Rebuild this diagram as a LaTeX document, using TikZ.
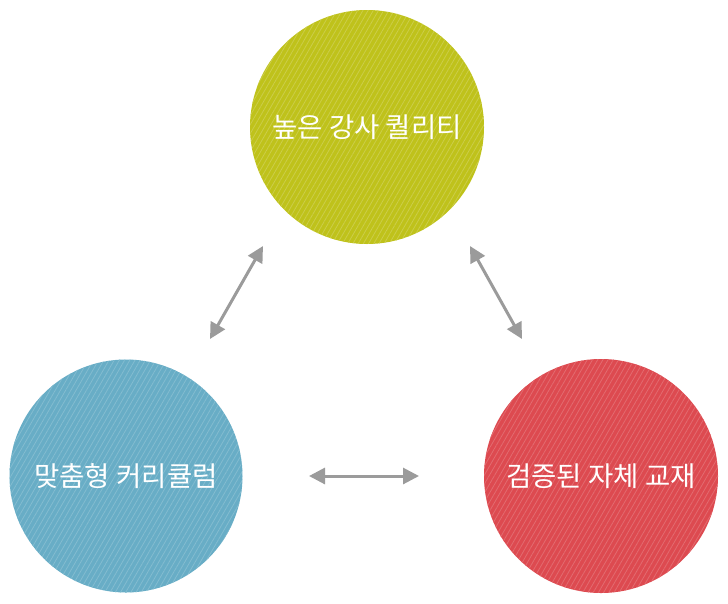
\documentclass[tikz,border=0pt]{standalone}
\usepackage{fontspec}
\newfontfamily\kr{Noto Sans CJK KR}
\usetikzlibrary{arrows.meta,patterns.meta}
\definecolor{olivec}{HTML}{BFC21B}
\definecolor{bluec}{HTML}{68ADC6}
\definecolor{redc}{HTML}{DD4A50}
\definecolor{arrowc}{HTML}{9B9B9B}
\tikzset{
  bubble/.style={circle, minimum size=234pt, inner sep=0pt, text=white, font=\kr\fontsize{27.5}{32}\selectfont},
  hatch/.style={pattern={Lines[angle=60,distance=4.5pt,line width=0.8pt]}, pattern color=#1},
  link/.style={draw=arrowc, line width=3pt, {Triangle[length=16pt,width=16pt]}-{Triangle[length=16pt,width=16pt]}}
}
\begin{document}
\begin{tikzpicture}[x=1pt,y=-1pt]
\useasboundingbox (0,0) rectangle (728,603);
\fill[olivec] (367,127) circle (117);
\fill[hatch=olivec!80!white] (367,127) circle (117);
\fill[bluec] (126,476) circle (116.5);
\fill[hatch=bluec!82!white] (126,476) circle (116.5);
\fill[redc] (601,476) circle (117);
\fill[hatch=redc!82!white] (601,476) circle (117);
\node[bubble] (top) at (367,127) {높은 강사 퀄리티};
\node[bubble] (left) at (126,476) {맞춤형 커리큘럼};
\node[bubble] (right) at (601,476) {검증된 자체 교재};
\coordinate (a1) at (210,339);
\coordinate (a2) at (263,246);
\coordinate (b1) at (470,246);
\coordinate (b2) at (522,339);
\coordinate (c1) at (309,476);
\coordinate (c2) at (419,476);
\draw[link] (a1) -- (a2);
\draw[link] (b1) -- (b2);
\draw[link] (c1) -- (c2);
\end{tikzpicture}
\end{document}
